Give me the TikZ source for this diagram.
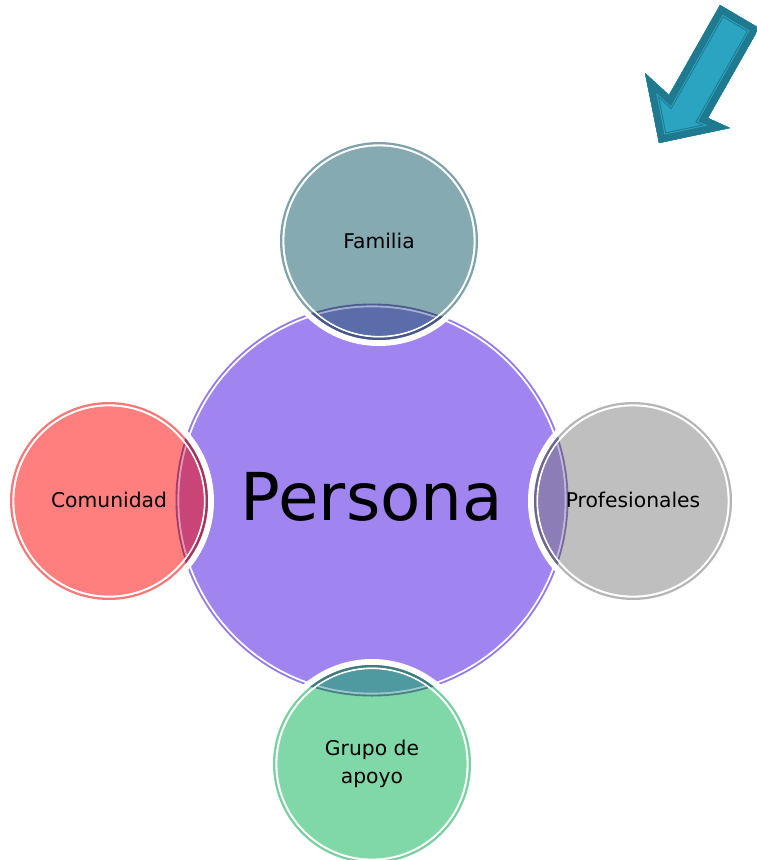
\documentclass[tikz,border=0pt]{standalone}
\usepackage{fontspec}
\setmainfont{DejaVu Sans}
\definecolor{purp}{HTML}{A084EF}
\definecolor{purpline}{HTML}{9478EA}
\definecolor{famfill}{HTML}{86AAB2}
\definecolor{famring}{HTML}{7DA2AA}
\definecolor{famov}{HTML}{5A6CAA}
\definecolor{comfill}{HTML}{FF7F7F}
\definecolor{comring}{HTML}{F77676}
\definecolor{comov}{HTML}{C94477}
\definecolor{profill}{HTML}{BFBFBF}
\definecolor{proring}{HTML}{B5B5B5}
\definecolor{proov}{HTML}{8C7DB7}
\definecolor{grufill}{HTML}{80D8A8}
\definecolor{grurring}{HTML}{76D09F}
\definecolor{gruov}{HTML}{4F9AA0}
\definecolor{arrdark}{HTML}{1F7A8F}
\definecolor{arrlight}{HTML}{2BA4C2}
\newcommand\satellite[5]{%
  \draw[white, line width=10] (#1,#2) circle (100);
  \fill[#4] (#1,#2) circle (99);
  \fill[white] (#1,#2) circle (96.7);
  \fill[#3] (#1,#2) circle (94.6);
  \begin{scope}
    \clip (372,500) circle (196.5);
    \draw[#5!80!black, line width=2.3] (#1,#2) circle (97.85);
  \end{scope}
  \begin{scope}
    \clip (#1,#2) circle (94.6);
    \fill[#5!85!black] (372,500) circle (196.5);
    \fill[#5!55!white] (372,500) circle (194.6);
    \fill[#5] (372,500) circle (192.7);
  \end{scope}}
\tikzset{
  sattext/.style={font=\fontsize{20.3}{28}\selectfont, text=black, align=center},
  bigtext/.style={font=\fontsize{66}{72}\selectfont, text=black}
}
\begin{document}
\begin{tikzpicture}[x=1pt,y=-1pt]
\useasboundingbox (0,0) rectangle (756,860);
% central circle
\fill[purpline] (372,500) circle (196.5);
\fill[white] (372,500) circle (194.6);
\fill[purp] (372,500) circle (192.7);
% satellites
\satellite{379}{241}{famfill}{famring}{famov}
\satellite{109}{501}{comfill}{comring}{comov}
\satellite{633}{501}{profill}{proring}{proov}
\satellite{372}{764}{grufill}{grurring}{gruov}
% texts
\node[bigtext] (persona) at (372,497) {Persona};
\node[sattext] (familia) at (379,241) {Familia};
\node[sattext] (comunidad) at (109,500) {Comunidad};
\node[sattext] (profesionales) at (633,500) {Profesionales};
\node[sattext] (grupo) at (372,764) {Grupo de\\apoyo};
% arrow
\coordinate (a1) at (720,5);
\coordinate (a2) at (669,95);
\coordinate (a3) at (645,73);
\coordinate (a4) at (659,143);
\coordinate (a5) at (730,128);
\coordinate (a6) at (708,118);
\coordinate (a7) at (759,28);
\fill[arrdark] (a1) -- (a2) -- (a3) -- (a4) -- (a5) -- (a6) -- (a7) -- cycle;
\begin{scope}
  \clip (a1) -- (a2) -- (a3) -- (a4) -- (a5) -- (a6) -- (a7) -- cycle;
  \fill[arrlight] (a1) -- (a2) -- (a3) -- (a4) -- (a5) -- (a6) -- (a7) -- cycle;
  \draw[arrdark, line width=18, line join=miter, miter limit=25] (a1) -- (a2) -- (a3) -- (a4) -- (a5) -- (a6) -- (a7) -- cycle;
  \draw[arrlight, line width=16, line join=miter, miter limit=25] (a1) -- (a2) -- (a3) -- (a4) -- (a5) -- (a6) -- (a7) -- cycle;
  \draw[arrdark, line width=14, line join=miter, miter limit=25] (a1) -- (a2) -- (a3) -- (a4) -- (a5) -- (a6) -- (a7) -- cycle;
\end{scope}
\end{tikzpicture}
\end{document}
